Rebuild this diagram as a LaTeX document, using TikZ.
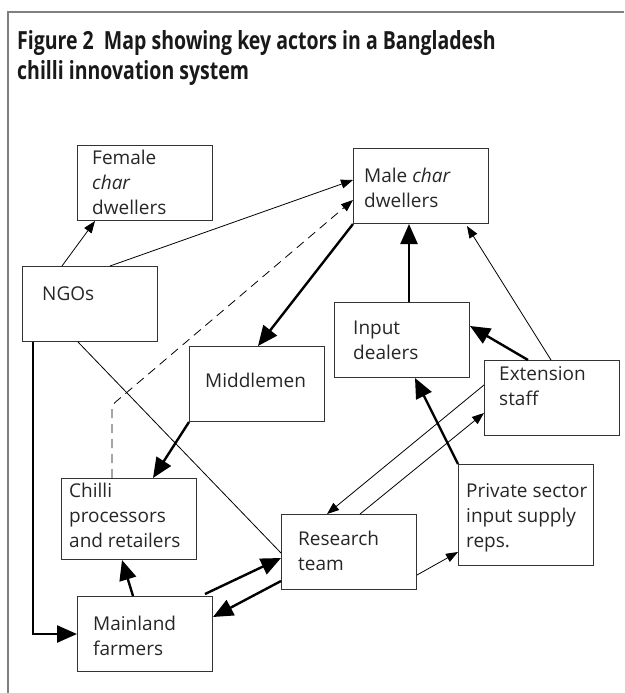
\documentclass[tikz,border=0pt]{standalone}
\usepackage{fontspec}
\usepackage{graphicx}
\setmainfont{Open Sans}
\usetikzlibrary{arrows.meta}

\newcommand{\cond}[1]{\scalebox{0.78}[1]{#1}}

\tikzset{
  actor/.style={draw=black!80, line width=1pt, anchor=north west,
    minimum width=135pt, minimum height=75pt, inner sep=0pt},
  lbl/.style={anchor=base west, align=left, inner sep=0pt,
    font=\fontsize{19}{25}\selectfont, text=black!85},
  strong/.style={line width=2.4pt, -{Triangle[length=20pt,width=17pt]}},
  weak/.style={line width=0.8pt, -{Triangle[length=12pt,width=9pt]}},
}

\begin{document}
\begin{tikzpicture}[x=1pt, y=-1pt]
    \useasboundingbox (0,0) rectangle (624,693);

    % Frame and title (base = last line)
    \draw[black!50, line width=2pt] (624,12) -- (8,12) -- (8,693);
    \node[anchor=base west, align=left, inner sep=0pt, text=black!90,
      font=\fontsize{25}{29}\selectfont\bfseries] (title) at (17,79)
      {\cond{Figure 2\ \ Map showing key actors in a Bangladesh}\\
       \cond{chilli innovation system}};

    % Actors
    \node[actor] (fem) at (77,145) {};
    \node[actor] (ngo) at (22,266) {};
    \node[actor] (male) at (353,148) {};
    \node[actor] (inp) at (334,302) {};
    \node[actor] (mid) at (189,346) {};
    \node[actor] (ext) at (484,360) {};
    \node[actor, minimum height=81pt] (chl) at (61,478) {};
    \node[actor, minimum height=101pt] (priv) at (458,464) {};
    \node[actor] (res) at (281,514) {};
    \node[actor] (main) at (77,596) {};

    % Actor labels, placed by their last line
    \node[lbl] (fem-t) at ([xshift=15pt, yshift=-69pt]fem.north west) {Female\\\textit{char}\\dwellers};
    \node[lbl] (ngo-t) at ([xshift=20pt, yshift=-34pt]ngo.north west) {NGOs};
    \node[lbl] (male-t) at ([xshift=11pt, yshift=-59pt]male.north west) {Male \textit{char}\\dwellers};
    \node[lbl] (inp-t) at ([xshift=19pt, yshift=-57pt]inp.north west) {Input\\dealers};
    \node[lbl] (mid-t) at ([xshift=16pt, yshift=-41pt]mid.north west) {Middlemen};
    \node[lbl] (ext-t) at ([xshift=15pt, yshift=-45pt]ext.north west) {Extension\\staff};
    \node[lbl] (chl-t) at ([xshift=8pt, yshift=-69pt]chl.north west) {Chilli\\processors\\and retailers};
    \node[lbl] (priv-t) at ([xshift=8pt, yshift=-83pt]priv.north west) {Private sector\\input supply\\reps.};
    \node[lbl] (res-t) at ([xshift=17pt, yshift=-56pt]res.north west) {Research\\team};
    \node[lbl] (main-t) at ([xshift=16pt, yshift=-59pt]main.north west) {Mainland\\farmers};

    % Thin links
    \draw[weak] ([xshift=40pt]ngo.north west) -- ([xshift=18pt]fem.south west);
    \draw[weak] ([xshift=88pt]ngo.north west) -- ([yshift=-32pt]male.north west);
    \coordinate (bend) at (112,405);
    \draw[weak, dashed, dash pattern=on 9pt off 6pt, rounded corners=4pt]
      ([xshift=51pt]chl.north west) -- (bend) -- ([yshift=-52pt]male.north west);
    \draw[weak] ([xshift=67pt]ext.north west) -- ([xshift=-22pt, yshift=-2pt]male.south east);
    \draw[weak] ([yshift=-25pt]ext.north west) -- ([xshift=46pt]res.north west);
    \draw[weak] ([xshift=79pt]res.north west) -- ([yshift=-53pt]ext.north west);
    \draw[weak] ([yshift=-61pt]res.north east) -- ([yshift=-88pt]priv.north west);
    \draw[line width=0.8pt] ([xshift=56pt]ngo.south west) -- ([yshift=-39pt]res.north west);

    % Thick links
    \draw[strong] (male.south west) -- ([xshift=69pt]mid.north west);
    \draw[strong] ([xshift=75pt]inp.north west) -- ([xshift=56pt]male.south west);
    \draw[strong] ([xshift=44pt]ext.north west) -- ([yshift=-24pt]inp.north east);
    \draw[strong] (priv.north west) -- ([xshift=81pt]inp.south west);
    \draw[strong] ([xshift=11pt]ngo.south west) |- (main.west);
    \draw[strong] (mid.south west) -- ([xshift=92pt]chl.north west);
    \draw[strong] ([xshift=56pt]main.north west) -- ([xshift=61pt]chl.south west);
    \draw[strong] ([xshift=-8pt, yshift=2pt]main.north east) -- ([yshift=-44pt]res.north west);
    \draw[strong] ([yshift=-67pt]res.north west) -- ([yshift=-21pt]main.north east);
\end{tikzpicture}
\end{document}
